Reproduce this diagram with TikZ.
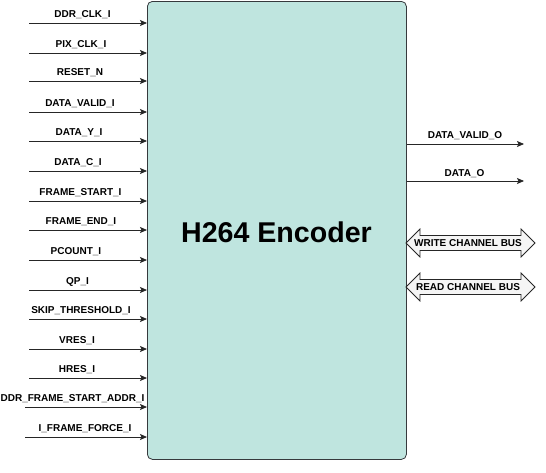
\documentclass[tikz,border=0pt]{standalone}
\usepackage{fontspec}
\setmainfont{Liberation Sans}
\usetikzlibrary{arrows.meta}
\definecolor{boxfill}{RGB}{191,229,223}
\definecolor{boxline}{RGB}{54,57,61}
\definecolor{busfill}{RGB}{245,245,245}
\begin{document}
\begin{tikzpicture}[x=1pt,y=-1pt,
  sig/.style={draw=black!85, line width=0.8pt, -{Stealth[length=7pt,width=6pt,inset=1.5pt]}},
  lab/.style={font=\bfseries\fontsize{10}{12}\selectfont, anchor=base, inner sep=0pt},
  busarrow/.style={draw=black!85, line width=0.8pt, fill=busfill, line join=miter}]
\useasboundingbox (0,0) rectangle (546,472);
\node[draw=boxline, fill=boxfill, line width=0.8pt, rounded corners=5pt,
      minimum width=259pt, minimum height=458pt, anchor=north west, inner sep=0pt] (enc) at (147,1) {};
\node[font=\bfseries\fontsize{28.6}{32}\selectfont, anchor=base] (title) at (276.5,242) {H264 Encoder};
% inputs
\foreach \n/\y/\lx/\sx/\t in {
  1/23/82.5/29/DDR\_CLK\_I,
  2/53/81/29/PIX\_CLK\_I,
  3/81/80/29/RESET\_N,
  4/112/80/29/DATA\_VALID\_I,
  5/141/79/29/DATA\_Y\_I,
  6/171/78/29/DATA\_C\_I,
  7/201/80.5/29/FRAME\_START\_I,
  8/230/81/29/FRAME\_END\_I,
  9/260/76/29/PCOUNT\_I,
  10/290/77.5/29/QP\_I,
  11/319/81/29/SKIP\_THRESHOLD\_I,
  12/349/77/29/VRES\_I,
  13/378/77/29/HRES\_I,
  14/407/72.5/25/DDR\_FRAME\_START\_ADDR\_I,
  15/437/85/25/I\_FRAME\_FORCE\_I}{
  \coordinate (in\n) at (\sx,\y);
  \draw[sig] (in\n) -- (in\n -| enc.west);
  \node[lab] (lin\n) at (\lx,\y-5.5) {\t};
}
% outputs
\coordinate (o1) at (524,144);
\coordinate (o2) at (524,181);
\draw[sig] (o1 -| enc.east) -- (o1);
\draw[sig] (o2 -| enc.east) -- (o2);
\node[lab] (lo1) at (465,138) {DATA\_VALID\_O};
\node[lab] (lo2) at (464.5,176) {DATA\_O};
% buses
\foreach \n/\y/\t in {1/243/WRITE CHANNEL BUS, 2/287/READ CHANNEL BUS}{
  \draw[busarrow] (406,\y) -- (420,\y-14) -- (420,\y-7.5) -- (521,\y-7.5) -- (521,\y-14)
     -- (535,\y) -- (521,\y+14) -- (521,\y+7.5) -- (420,\y+7.5) -- (420,\y+14) -- cycle;
  \node[font=\bfseries\fontsize{10}{12}\selectfont, inner sep=0pt] (bus\n) at (468,\y) {\t};
}
\end{tikzpicture}
\end{document}
